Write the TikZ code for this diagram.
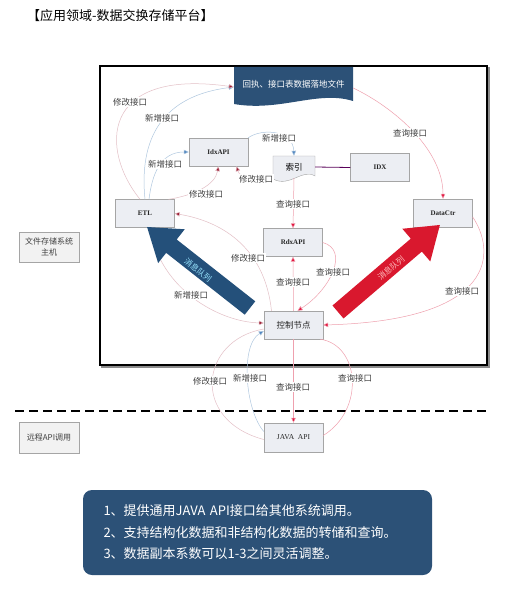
\documentclass[tikz,border=0pt]{standalone}
\usepackage{fontspec}
\setmainfont{Liberation Serif}
\newfontfamily\cjk{Noto Sans CJK SC}
\usetikzlibrary{arrows.meta,positioning,calc}
\definecolor{Slate}{HTML}{2C5177}
\definecolor{QueueBlue}{HTML}{24507A}
\definecolor{QueueRed}{HTML}{D9182E}
\definecolor{BoxFill}{HTML}{ECEEF3}
\definecolor{BoxLine}{HTML}{A5A5A5}
\definecolor{ModLine}{HTML}{E3BFC6}
\definecolor{ModTip}{HTML}{9C1C33}
\definecolor{AddLine}{HTML}{AFC7DF}
\definecolor{AddTip}{HTML}{4F86C0}
\definecolor{QueryLine}{HTML}{EFA0AE}
\definecolor{QueryTip}{HTML}{E3133F}
\definecolor{LabelText}{HTML}{404040}
\tikzset{
  apibox/.style={
    draw=BoxLine,
    fill=BoxFill,
    minimum width=59,
    minimum height=28,
    inner sep=0pt,
    text=black!85,
    font=\fontsize{7}{8}\selectfont\bfseries
  },
  sidebox/.style={
    draw=BoxLine,
    fill=black!5,
    minimum width=60,
    inner sep=0pt,
    align=center,
    text=LabelText,
    font=\cjk\fontsize{8}{11}\selectfont
  },
  linklabel/.style={
    fill=white,
    inner sep=0.6pt,
    text=LabelText,
    font=\cjk\fontsize{8.5}{9}\selectfont
  },
  modlink/.style={
    draw=ModLine,
    line width=0.5pt,
    -{Triangle[length=5pt,width=4.5pt,fill=ModTip]}
  },
  addlink/.style={
    draw=AddLine,
    line width=0.5pt,
    -{Triangle[length=5pt,width=4.5pt,fill=AddTip]}
  },
  querylink/.style={
    draw=QueryLine,
    line width=0.5pt,
    -{Triangle[length=5pt,width=4.5pt,fill=QueryTip]}
  },
  plainlink/.style={
    draw=#1,
    line width=0.5pt
  },
  queuetext/.style={
    inner sep=0pt,
    font=\cjk\fontsize{8}{9}\selectfont
  },
  notebox/.style={
    rounded corners=9pt,
    fill=Slate,
    text=white,
    align=left,
    text width=308,
    minimum width=349,
    minimum height=85,
    font=\cjk\fontsize{13}{21.5}\selectfont
  }
}
\newcommand{\queuearrow}[4]{%
  \begin{scope}[shift={(#1)}, rotate=#2]
    \fill[#4] (0,-8.5) -- ({#3-31},-8.5) -- ({#3-31},-21.5) -- (#3,0)
      -- ({#3-31},21.5) -- ({#3-31},8.5) -- (0,8.5) -- cycle;
  \end{scope}
}

\begin{document}
\begin{tikzpicture}[x=1pt,y=-1pt]
\useasboundingbox (0,0) rectangle (509,594);

% Title.
\node[anchor=west, inner sep=0pt, font=\cjk\fontsize{13}{15}\selectfont] (title) at (27,16)
  {【应用领域-数据交换存储平台】};

% Storage host frame with shadow.
\draw[black!45, line width=1.5pt] (102,68) rectangle (489,367);
\draw[black, line width=1.2pt, fill=white] (100,66) rectangle (487,365);

% Banner (document shape).
\fill[Slate] (234,67) -- (353,67) -- (353,101)
  .. controls (318,90) and (280,112) .. (234,104) -- cycle;
\node[inner sep=0pt, minimum width=119, minimum height=34, text=white,
  font=\cjk\fontsize{8.5}{9}\selectfont] (banner) at (293.5,84) {回执、接口表数据落地文件};

% Index (document shape).
\draw[draw=BoxLine, fill=BoxFill] (273,156) -- (315,156) -- (315,176)
  .. controls (302,168) and (290,188) .. (273,179) -- cycle;
\node[inner sep=0pt, minimum width=42, minimum height=22,
  font=\cjk\fontsize{8.5}{9}\selectfont] (suoyin) at (294,167) {索引};

% Boxes.
\node[apibox] (idxapi) at (218.5,152) {IdxAPI};
\node[apibox] (etl) at (145,213.5) {ETL};
\node[apibox] (rdxapi) at (293,242.5) {RdxAPI};
\node[apibox, font=\cjk\fontsize{8.5}{9}\selectfont] (ctrl) at (293.5,325) {控制节点};
\node[apibox] (datactr) at (443,213) {DataCtr};
\node[apibox] (idx) at (380,167.5) {IDX};
\node[apibox, minimum height=29, font=\fontsize{7.5}{8}\selectfont] (javaapi) at (293.5,437.5) {JAVA\ \ API};

% Side captions.
\node[sidebox, minimum height=30] (host) at (49,247) {文件存储系统\\主机};
\node[sidebox, minimum height=31] (remote) at (49,437.5) {远程API调用};

% Layer divider.
\coordinate (dashl) at (15,411);
\coordinate (dashr) at (490,411);
\draw[line width=2.2pt, dash pattern=on 9pt off 5pt] (dashl) -- (dashr);

% Links from ETL.
\draw[addlink] (etl.north) .. controls (138,130) and (170,95) .. ([yshift=-3pt]banner.west);
\draw[modlink] ([xshift=-5pt]etl.north) .. controls (100,150) and (100,68) .. ([yshift=-3pt]banner.west);
\draw[addlink] ([xshift=4pt]etl.north) .. controls (152,175) and (160,152) .. (idxapi.west);
\draw[modlink] ([xshift=-6pt]etl.north east) .. controls (195,195) and (215,185) .. (idxapi.south);
\draw[modlink] ([xshift=5pt]etl.south) .. controls (160,290) and (220,322) .. ([yshift=2pt]ctrl.west);
\node[linklabel] (lmodbanner) at (130,102) {修改接口};
\node[linklabel] (laddbanner) at (162,118) {新增接口};
\node[linklabel] (laddidx) at (165,164) {新增接口};
\node[linklabel] (lmodidx) at (206,194) {修改接口};
\node[linklabel] (laddctrl) at (191,295) {新增接口};

% Links around the index.
\draw[modlink] (suoyin.south west) .. controls (255,183) and (240,178) .. ([xshift=18pt]idxapi.south);
\draw[addlink] (idxapi.north east) .. controls (262,128) and (293,130) .. (suoyin.north);
\draw[draw=violet!70!black, line width=0.8pt] (suoyin.east) -- (idx.west);
\draw[querylink] (suoyin.south) -- (rdxapi.north);
\node[linklabel] (lmodsuoyin) at (256,179) {修改接口};
\node[linklabel] (laddsuoyin) at (279,138) {新增接口};
\node[linklabel] (lqrysuoyin) at (293,204) {查询接口};

% Links from the control node.
\draw[querylink] (ctrl.north) -- (rdxapi.south);
\draw[querylink] (rdxapi.east) .. controls (350,250) and (330,290) .. ([xshift=4pt]ctrl.north);
\draw[modlink] ([xshift=-22pt]ctrl.north) .. controls (265,250) and (225,222) .. (etl.east);
\node[linklabel] (lqryrdx) at (293,282) {查询接口};
\node[linklabel] (lqryback) at (333,272) {查询接口};
\node[linklabel] (lmodetl) at (248,258) {修改接口};

% Links to the data centre.
\draw[querylink] ([yshift=-4pt]banner.east) .. controls (395,108) and (443,150) .. (datactr.north);
\draw[querylink] ([yshift=-4pt]datactr.east) .. controls (495,250) and (500,320) .. (ctrl.east);
\node[linklabel] (lqrydata) at (410,133) {查询接口};
\node[linklabel] (lqryctrl) at (462,291) {查询接口};

% Links to JAVA API.
\draw[plainlink=ModLine] ([yshift=-2pt]javaapi.west) .. controls (190,420) and (200,340) .. ([yshift=-4pt]ctrl.west);
\draw[addlink] ([yshift=6pt]javaapi.west) .. controls (245,410) and (240,345) .. ([yshift=-6pt]ctrl.west);
\draw[querylink] (ctrl.south) -- (javaapi.north);
\draw[plainlink=QueryLine] ([yshift=2pt]javaapi.east) .. controls (365,410) and (360,345) .. ([xshift=-3pt]ctrl.south east);
\node[linklabel] (lmodjava) at (210,381) {修改接口};
\node[linklabel] (laddjava) at (250,378) {新增接口};
\node[linklabel] (lqryjava) at (293,387) {查询接口};
\node[linklabel] (lqryjavab) at (355,378) {查询接口};

% Message queues.
\queuearrow{250,308}{141.8}{131}{QueueBlue}
\node[queuetext, text=blue!25!cyan!40!white, rotate=-38.2] (queueleft) at (198,270) {消息队列};
\queuearrow{338,312}{40.5}{134}{QueueRed}
\node[queuetext, text=red!25!white, rotate=40.5] (queueright) at (391,268) {消息队列};

% Notes.
\node[notebox] (notes) at (257.5,532.5) {1、提供通用JAVA API接口给其他系统调用。\\
  2、支持结构化数据和非结构化数据的转储和查询。\\
  3、数据副本系数可以1-3之间灵活调整。};

\end{tikzpicture}
\end{document}
